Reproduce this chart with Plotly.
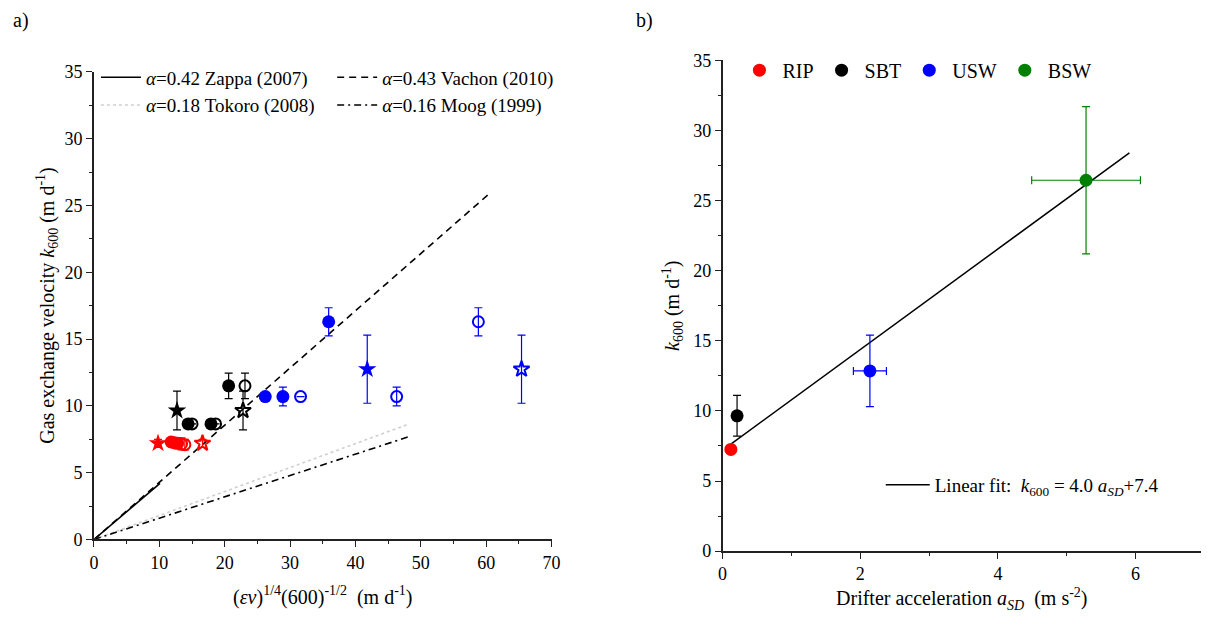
import plotly.graph_objects as go

# ---------------- Panel a data ----------------
a_site = ["RIP"] * 7 + ["SBT"] * 8 + ["USW"] * 8
a_method = ["A", "A", "A", "A", "B", "B", "B",
            "A", "A", "B", "A", "B", "A", "B", "B",
            "A", "A", "B", "A", "A", "B", "B", "B"]
a_type = ["mean", "event", "event", "event", "event", "event", "mean",
          "mean", "event", "event", "event", "event", "event", "event", "mean",
          "event", "event", "event", "event", "mean", "event", "event", "mean"]
a_x = [9.8, 11.8, 12.3, 12.8, 13.4, 13.9, 16.6,
       12.7, 14.4, 15.0, 17.9, 18.6, 20.6, 23.1, 22.8,
       26.2, 28.9, 31.6, 35.9, 41.8, 46.3, 58.8, 65.4]
a_y = [7.2, 7.3, 7.25, 7.2, 7.15, 7.1, 7.2,
       9.65, 8.65, 8.65, 8.65, 8.65, 11.5, 11.5, 9.65,
       10.7, 10.7, 10.7, 16.3, 12.75, 10.7, 16.3, 12.75]
a_err = [0.3, None, None, 0.4, 0.45, 0.4, 0.3,
         1.45, None, None, None, None, 0.95, 0.95, 1.45,
         None, 0.7, None, 1.05, 2.55, 0.7, 1.05, 2.55]

# model lines k600 = alpha * x  (end points)
model_names = ["<i>α</i>=0.42 Zappa (2007)", "<i>α</i>=0.43 Vachon (2010)",
               "<i>α</i>=0.18 Tokoro (2008)", "<i>α</i>=0.16 Moog (1999)"]
model_x_end = [10.1, 60.5, 48.2, 48.2]
model_y_end = [4.2, 25.9, 8.65, 7.7]

# ---------------- Panel b data ----------------
b_site = ["RIP", "SBT", "USW", "BSW"]
b_x = [0.12, 0.21, 2.14, 5.28]
b_y = [7.25, 9.65, 12.85, 26.45]
b_xerr = [None, None, 0.24, 0.79]
b_yerr = [0.3, 1.45, 2.55, 5.25]
fit_x = [0.13, 5.91]
fit_y = [7.67, 28.4]

# ---------------- styles ----------------
FONT = "Liberation Serif, Tinos, 'Times New Roman', 'DejaVu Serif', serif"
site_color = {"RIP": "#ff0000", "SBT": "#000000", "USW": "#0000ff", "BSW": "#008000"}
model_dash = ["solid", "7px,5px", "dot", "7px,4px,2px,4px"]
model_color = ["#000000", "#000000", "#cfcfcf", "#000000"]
model_legend = ["legend", "legend2", "legend", "legend2"]

W, H = 1210, 625


def px_x(p):
    return p / W


def px_y(p):
    return 1 - p / H


fig = go.Figure()

# panel a model lines
for i, name in enumerate(model_names):
    fig.add_trace(go.Scatter(
        x=[0, model_x_end[i]], y=[0, model_y_end[i]], mode="lines",
        name=name, legend=model_legend[i],
        line=dict(color=model_color[i], dash=model_dash[i], width=1.6),
        xaxis="x", yaxis="y"))

# panel a points: open first, filled on top
for method in ["B", "A"]:
    for site in ["RIP", "SBT", "USW"]:
        for typ in ["event", "mean"]:
            idx = [i for i in range(len(a_x))
                   if a_site[i] == site and a_method[i] == method and a_type[i] == typ]
            if not idx:
                continue
            col = site_color[site]
            base = "circle" if typ == "event" else "star"
            sym = base if method == "A" else base + "-open"
            size = 13 if typ == "event" else 14
            if method == "B":
                size -= 2
            fig.add_trace(go.Scatter(
                x=[a_x[i] for i in idx], y=[a_y[i] for i in idx],
                mode="markers", showlegend=False,
                marker=dict(symbol=sym, size=size, color=col,
                            line=dict(color=col, width=2 if method == "B" else 0)),
                error_y=dict(type="data", array=[a_err[i] for i in idx],
                             color=col, thickness=1.2, width=4),
                xaxis="x", yaxis="y"))

# panel b fit
fig.add_trace(go.Scatter(
    x=fit_x, y=fit_y, mode="lines",
    name="Linear fit:  <i>k</i><sub>600</sub> = 4.0 <i>a</i><sub><i>SD</i></sub>+7.4",
    legend="legend4", line=dict(color="black", width=1.5),
    xaxis="x2", yaxis="y2"))

# panel b points
for i, site in enumerate(b_site):
    col = site_color[site]
    fig.add_trace(go.Scatter(
        x=[b_x[i]], y=[b_y[i]], mode="markers", name=site, legend="legend3",
        marker=dict(symbol="circle", size=13, color=col),
        error_y=dict(type="data", array=[b_yerr[i]], color=col, thickness=1.2, width=4),
        error_x=dict(type="data", array=[b_xerr[i]], color=col, thickness=1.2, width=4),
        xaxis="x2", yaxis="y2"))

axis_common = dict(
    showline=True, linecolor="#222", linewidth=1.5, mirror=False,
    ticks="outside", ticklen=6, tickwidth=1.3, tickcolor="#222",
    showgrid=False, zeroline=False,
    tickfont=dict(family=FONT, size=18, color="black"),
    title_font=dict(family=FONT, size=20, color="black"),
)

fig.update_layout(
    width=W, height=H, autosize=False, margin=dict(l=0, r=0, t=0, b=0),
    paper_bgcolor="white", plot_bgcolor="white",
    font=dict(family=FONT, size=18, color="black"),
    xaxis=dict(axis_common, domain=[px_x(90), px_x(553)], range=[0, 70],
               dtick=10, minor=dict(dtick=5, ticks="outside", ticklen=3, tickcolor="#222"),
               anchor="y",
               title=dict(text="(<i>εν</i>)<sup>1/4</sup>(600)<sup>-1/2</sup>  (m d<sup>-1</sup>)",
                          standoff=18)),
    yaxis=dict(axis_common, domain=[px_y(547), px_y(64)], range=[0, 35],
               dtick=5, minor=dict(dtick=2.5, ticks="outside", ticklen=3, tickcolor="#222"),
               anchor="x"),
    xaxis2=dict(axis_common, domain=[px_x(726), 1.0], range=[0, 6.95],
                dtick=2, minor=dict(dtick=1, ticks="outside", ticklen=3, tickcolor="#222"),
                anchor="y2",
                title=dict(text="Drifter acceleration <i>a</i><sub><i>SD</i></sub>  (m s<sup>-2</sup>)",
                           standoff=8)),
    yaxis2=dict(axis_common, domain=[px_y(559), px_y(52)], range=[0, 35],
                dtick=5, minor=dict(dtick=2.5, ticks="outside", ticklen=3, tickcolor="#222"),
                anchor="x2",
                title=dict(text="<i>k</i><sub>600</sub> (m d<sup>-1</sup>)", standoff=8)),
    legend=dict(x=px_x(92), y=px_y(50), xanchor="left", yanchor="top",
                bgcolor="rgba(0,0,0,0)", font=dict(family=FONT, size=19),
                tracegroupgap=0, itemwidth=40),
    legend2=dict(x=px_x(331), y=px_y(50), xanchor="left", yanchor="top",
                 bgcolor="rgba(0,0,0,0)", font=dict(family=FONT, size=19),
                 tracegroupgap=0, itemwidth=40),
    legend3=dict(x=px_x(740), y=px_y(42), xanchor="left", yanchor="top",
                 orientation="h", bgcolor="rgba(0,0,0,0)", itemwidth=36,
                 font=dict(family=FONT, size=20)),
    legend4=dict(x=px_x(886), y=px_y(471), xanchor="left", yanchor="top",
                 bgcolor="rgba(0,0,0,0)", font=dict(family=FONT, size=19),
                 itemwidth=44),
    annotations=[
        dict(text="Gas exchange velocity <i>k</i><sub>600</sub> (m d<sup>-1</sup>)",
             x=px_x(43), y=px_y(305), xref="paper", yref="paper", textangle=-90,
             xanchor="center", yanchor="middle", showarrow=False,
             font=dict(family=FONT, size=20, color="black")),
        dict(text="a)", x=px_x(16), y=px_y(11), xref="paper", yref="paper",
             xanchor="center", yanchor="middle", showarrow=False,
             font=dict(family=FONT, size=20, color="black")),
        dict(text="b)", x=px_x(647), y=px_y(11), xref="paper", yref="paper",
             xanchor="center", yanchor="middle", showarrow=False,
             font=dict(family=FONT, size=20, color="black")),
    ],
)

fig.write_html(
    "out.html",
    config={"responsive": False},
    default_width="1210px", default_height="625px",
    post_script="document.body.style.margin='0';document.body.style.padding='0';",
)
